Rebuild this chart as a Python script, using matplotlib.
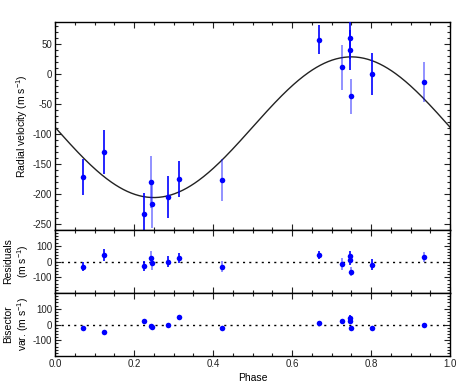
import numpy as np
import matplotlib
matplotlib.use("Agg")
import matplotlib.pyplot as plt
from matplotlib.ticker import MultipleLocator

plt.rcParams['font.family'] = ['Liberation Sans', 'DejaVu Sans']
plt.rcParams['mathtext.fontset'] = 'custom'
plt.rcParams['mathtext.rm'] = 'Liberation Sans'
plt.rcParams['mathtext.it'] = 'Liberation Sans'
plt.rcParams['font.size'] = 7.5
plt.rcParams['xtick.labelsize'] = 7
plt.rcParams['ytick.labelsize'] = 7
plt.rcParams['axes.unicode_minus'] = False
plt.rcParams['text.color'] = '#222222'
plt.rcParams['xtick.color'] = '#222222'
plt.rcParams['ytick.color'] = '#222222'

# orbital phase of each measurement
phase = [0.072, 0.125, 0.226, 0.243, 0.246, 0.287, 0.314, 0.422,
         0.669, 0.726, 0.747, 0.747, 0.750, 0.803, 0.934]
rv = [-171.6, -130.5, -233.0, -180.0, -217.0, -205.0, -175.5, -176.7,
      56.2, 10.6, 59.0, 39.5, -37.2, 0.0, -13.8]
rv_err = [30, 37, 34, 43, 40, 35, 30, 35, 24, 37, 35, 33, 29, 35, 33]
residual = [-32, 42, -28, 25, -11, 0, 21, -32, 42, -17, 32, 10, -66, -22, 29]
bisector = [-19, -46, 21, -11, -17, 0, 45, -23, 11, 25, 42, 21, -25, -23, -6]
bis_err = [10, 14, 12, 12, 12, 8, 16, 10, 10, 8, 18, 12, 12, 6, 12]
# second instrument (drawn fainter)
faint = [0, 0, 0, 1, 1, 0, 0, 1, 0, 1, 0, 0, 1, 0, 1]

# circular orbit fit
gamma_rv = -89.0
k_rv = 117.0

phase = np.array(phase)
faint = np.array(faint, dtype=bool)

fig = plt.figure(figsize=(4.63, 3.86), dpi=100)
left, width = 0.1188, 0.8532
ax1 = fig.add_axes([left, 0.4041, width, 0.943 - 0.4041])
ax2 = fig.add_axes([left, 0.2409, width, 0.4041 - 0.2409], sharex=ax1)
ax3 = fig.add_axes([left, 0.0777, width, 0.2409 - 0.0777], sharex=ax1)

ph = np.linspace(0, 1, 400)
ax1.plot(ph, gamma_rv - k_rv * np.sin(2 * np.pi * ph), color='#222222', lw=1.0)


def points(ax, y, err):
    y = np.array(y, dtype=float)
    err = np.array(err, dtype=float)
    for sel, a in [(~faint, 1.0), (faint, 0.5)]:
        ax.errorbar(phase[sel], y[sel], yerr=err[sel], fmt='o', color='blue',
                    ecolor=(0, 0, 1, a), ms=4, mew=0, elinewidth=1.2,
                    capsize=2, capthick=1.0, zorder=3)


points(ax1, rv, rv_err)
points(ax2, residual, rv_err)
points(ax3, bisector, bis_err)

for ax in (ax2, ax3):
    ax.axhline(0, color='black', ls=(0, (1.5, 3)), lw=1.0, zorder=1)
    ax.set_ylim(-200, 200)
    ax.set_yticks([-100, 0, 100])
    ax.yaxis.set_minor_locator(MultipleLocator(20))

ax1.set_ylim(-260, 86)
ax1.yaxis.set_major_locator(MultipleLocator(50))
ax1.yaxis.set_minor_locator(MultipleLocator(10))

ax3.set_xlim(0, 1)
ax3.xaxis.set_major_locator(MultipleLocator(0.2))
ax3.xaxis.set_minor_locator(MultipleLocator(0.05))

for ax in (ax1, ax2, ax3):
    ax.tick_params(which='both', direction='in', top=True, right=True, width=0.8)
    ax.tick_params(which='major', length=4, pad=2)
    ax.tick_params(which='minor', length=2)
    for s in ax.spines.values():
        s.set_linewidth(1.0)
for ax in (ax1, ax2):
    ax.tick_params(labelbottom=False)

ax1.set_ylabel('Radial velocity (m s$^{-1}$)')
ax2.set_ylabel('Residuals\n(m s$^{-1}$)', linespacing=1.2)
ax3.set_ylabel('Bisector\nvar. (m s$^{-1}$)', linespacing=1.2)
ax1.yaxis.set_label_coords(-0.063, 0.5)
ax2.yaxis.set_label_coords(-0.061, 0.5)
ax3.yaxis.set_label_coords(-0.061, 0.5)
ax3.set_xlabel('Phase', labelpad=3)

fig.savefig('out.png', dpi=100)
